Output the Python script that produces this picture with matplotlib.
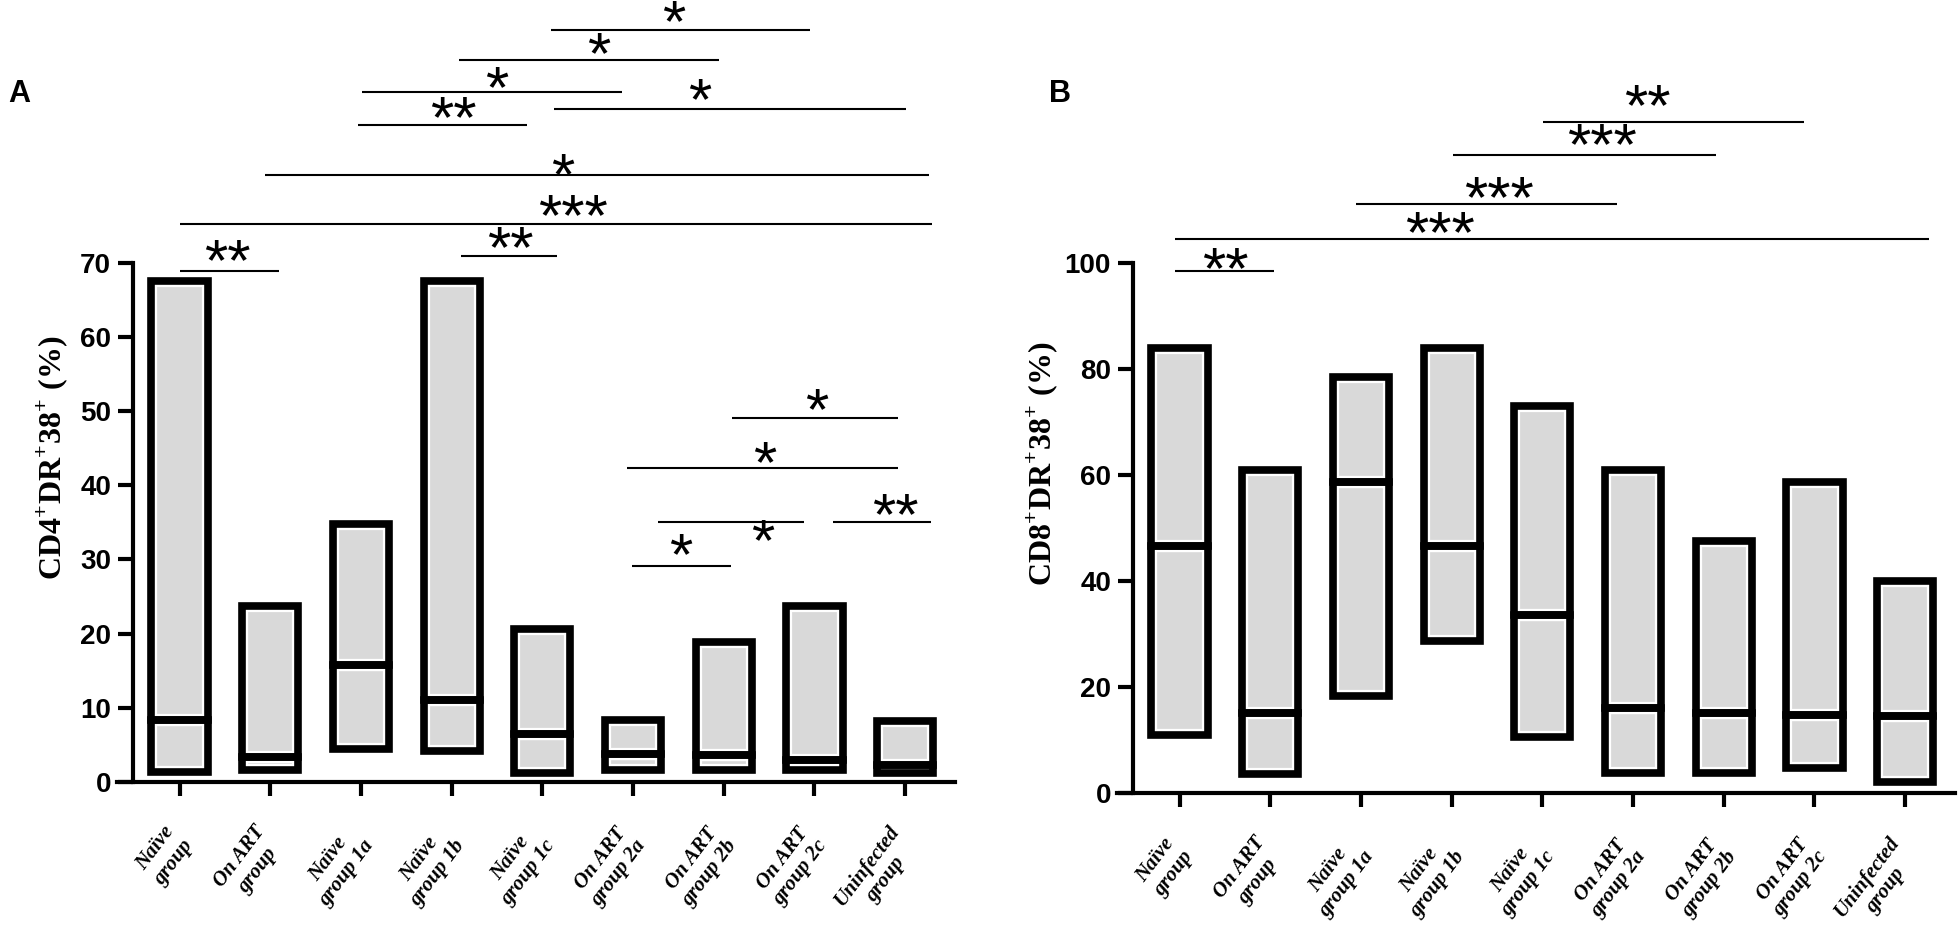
import matplotlib
matplotlib.use('Agg')
import matplotlib.pyplot as plt

plt.rcParams['mathtext.fontset'] = 'custom'
plt.rcParams['mathtext.rm'] = 'Liberation Serif:bold'
plt.rcParams['mathtext.bf'] = 'Liberation Serif:bold'

groups = ['Naïve\ngroup', 'On ART\ngroup', 'Naïve\ngroup 1a', 'Naïve\ngroup 1b', 'Naïve\ngroup 1c',
          'On ART\ngroup 2a', 'On ART\ngroup 2b', 'On ART\ngroup 2c', 'Uninfected\ngroup']

# CD4+DR+38+ (%) : min / median / max
cd4_min = [1.4, 1.6, 4.5, 4.2, 1.2, 1.6, 1.6, 1.6, 1.2]
cd4_med = [8.3, 3.4, 15.8, 11.0, 6.5, 3.8, 3.7, 3.0, 2.3]
cd4_max = [67.5, 23.7, 34.8, 67.5, 20.6, 8.4, 18.9, 23.7, 8.2]

# CD8+DR+38+ (%) : min / median / max
cd8_min = [11.0, 3.7, 18.3, 28.8, 10.7, 3.8, 3.8, 4.8, 2.1]
cd8_med = [46.6, 15.2, 58.7, 46.7, 33.7, 16.1, 15.1, 14.7, 14.6]
cd8_max = [84.0, 61.0, 78.5, 84.0, 73.0, 61.0, 47.6, 58.6, 40.1]

# significance lines: x from, x to, line y, label, star x, star y
sig_cd4 = [
    (4.09, 6.95, 101.4, '*', 5.45, 103.6),
    (3.08, 5.95, 97.3, '*', 4.62, 99.3),
    (2.01, 4.88, 93.0, '*', 3.50, 94.6),
    (1.97, 3.83, 88.5, '**', 3.02, 90.6),
    (4.13, 8.01, 90.7, '*', 5.74, 93.0),
    (0.94, 8.26, 81.8, '*', 4.22, 83.0),
    (0.01, 8.30, 75.2, '***', 4.34, 77.4),
    (3.10, 4.16, 70.9, '**', 3.65, 73.1),
    (0.01, 1.10, 68.9, '**', 0.53, 71.4),
    (6.09, 7.92, 49.0, '*', 7.02, 51.3),
    (4.93, 7.92, 42.3, '*', 6.45, 44.1),
    (5.27, 6.88, 35.0, '*', 6.43, 33.6),
    (7.20, 8.29, 35.0, '**', 7.89, 37.1),
    (4.99, 6.08, 29.1, '*', 5.53, 31.7),
]
sig_cd8 = [
    (-0.05, 1.04, 98.4, '**', 0.50, 100.4),
    (-0.05, 8.26, 104.5, '***', 2.87, 107.1),
    (1.95, 4.82, 111.0, '***', 3.52, 113.7),
    (3.02, 5.91, 120.3, '***', 4.66, 123.7),
    (4.01, 6.88, 126.6, '**', 5.16, 131.1),
]

W, H = 1960, 925
fig = plt.figure(figsize=(W / 100, H / 100), dpi=100)

STAR_FS = 43


def panel(rect, vmin, vmed, vmax, ytop, ylim_top, sigs):
    ax = fig.add_axes(rect)
    x = list(range(len(groups)))
    lo_h = [m - a for a, m in zip(vmin, vmed)]
    hi_h = [b - m for m, b in zip(vmed, vmax)]
    # white halo layer + gray fill
    for bottoms, heights in [(vmin, lo_h), (vmed, hi_h)]:
        bars = ax.bar(x, heights, bottom=bottoms, width=0.62, color='#d9d9d9',
                      edgecolor='white', linewidth=8.8, zorder=2)
        for b in bars:
            b.set_joinstyle('miter')
    # black outline layer
    for bottoms, heights in [(vmin, lo_h), (vmed, hi_h)]:
        bars = ax.bar(x, heights, bottom=bottoms, width=0.62, facecolor='none',
                      edgecolor='black', linewidth=5.5, zorder=3)
        for b in bars:
            b.set_joinstyle('miter')

    for x1, x2, y, lab, xs, ys in sigs:
        ax.plot([x1, x2], [y, y], color='black', lw=1.5, solid_capstyle='butt', zorder=4)
        ax.annotate(lab, (xs, ys), xytext=(0, -0.46 * STAR_FS), textcoords='offset points',
                    ha='center', va='baseline', fontsize=STAR_FS, family='Liberation Sans',
                    zorder=5, annotation_clip=False)

    ax.set_xlim(-0.69, 8.55)
    ax.set_ylim(0, ylim_top)
    for s in ['top', 'right']:
        ax.spines[s].set_visible(False)
    ax.spines['left'].set_position(('data', -0.51))
    ax.spines['left'].set_bounds(0, ytop)
    ax.spines['left'].set_linewidth(3)
    ax.spines['bottom'].set_linewidth(3)
    step = 10 if ytop == 70 else 20
    ax.set_yticks(list(range(0, ytop + 1, step)))
    ax.tick_params(axis='y', direction='out', length=11, width=3, pad=5)
    ax.tick_params(axis='x', direction='out', length=10, width=3, pad=28)
    for t in ax.get_yticklabels():
        t.set_fontfamily('Liberation Sans')
        t.set_fontweight('bold')
        t.set_fontsize(20)
    ax.set_xticks(x)
    ax.set_xticklabels(groups, rotation=53, ha='right', va='center',
                       rotation_mode='anchor', multialignment='center',
                       fontsize=15, family='Liberation Serif', fontweight='bold',
                       fontstyle='italic')
    ax.patch.set_alpha(0)
    return ax


axA = panel([117 / W, 1 - 782 / H, 838 / W, 782 / H], cd4_min, cd4_med, cd4_max,
            70, 782 / 7.42, sig_cd4)
axB = panel([1117 / W, 1 - 793.3 / H, 838 / W, 793.3 / H], cd8_min, cd8_med, cd8_max,
            100, 793.3 / 5.305, sig_cd8)

fig.text(52 / W, 1 - 458 / H, r'CD4$^{+}$DR$^{+}$38$^{+}$ (%)', rotation=90, ha='center',
         va='center', fontsize=23, family='Liberation Serif', fontweight='bold')
fig.text(1042 / W, 1 - 464 / H, r'CD8$^{+}$DR$^{+}$38$^{+}$ (%)', rotation=90, ha='center',
         va='center', fontsize=23, family='Liberation Serif', fontweight='bold')

fig.text(19 / W, 1 - 94 / H, 'A', ha='center', va='center', fontsize=22,
         family='Liberation Sans', fontweight='bold')
fig.text(1060 / W, 1 - 94 / H, 'B', ha='center', va='center', fontsize=22,
         family='Liberation Sans', fontweight='bold')

fig.savefig('out.png', dpi=100)
